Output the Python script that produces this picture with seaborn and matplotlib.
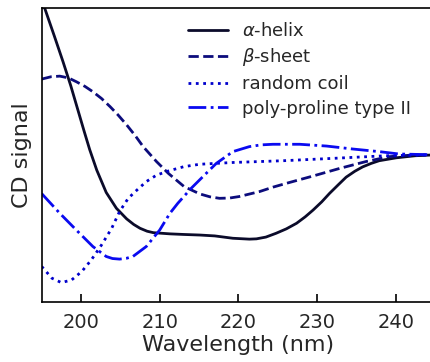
import numpy as np
import pandas as pd
import matplotlib
matplotlib.use("Agg")
import matplotlib.pyplot as plt
import seaborn as sns

# Data (arbitrary CD units, zero = common end level)
wl_helix = [195.0, 195.4, 196.6, 197.7, 198.7, 199.5, 200.4, 201.1, 202.0, 203.2, 204.5,
            205.8, 206.7, 207.5, 208.4, 209.2, 211.3, 213.0, 215.1, 217.0, 219.3, 221.4,
            222.3, 223.5, 224.8, 226.1, 227.4, 228.5, 229.5, 230.6, 231.6, 232.7, 233.7,
            234.8, 235.8, 236.9, 237.9, 240.1, 242.5, 245.0]
cd_helix = [5.28, 4.98, 4.05, 3.18, 2.35, 1.62, 0.80, 0.18, -0.52, -1.28, -1.82,
            -2.18, -2.37, -2.50, -2.60, -2.65, -2.69, -2.71, -2.73, -2.76, -2.84, -2.87,
            -2.86, -2.80, -2.67, -2.52, -2.33, -2.11, -1.88, -1.60, -1.31, -1.02, -0.76,
            -0.56, -0.41, -0.29, -0.20, -0.10, -0.03, 0.0]

wl_sheet = [195.0, 196.2, 197.3, 198.4, 199.4, 200.5, 201.5, 202.6, 203.7, 204.7, 205.8,
            206.9, 207.9, 209.6, 211.1, 213.1, 215.1, 216.4, 217.6, 218.9, 220.1, 222.7,
            224.4, 226.1, 229.5, 232.9, 236.2, 239.2, 242.0, 245.0]
cd_sheet = [2.58, 2.66, 2.68, 2.62, 2.49, 2.33, 2.15, 1.92, 1.64, 1.36, 1.02,
            0.65, 0.28, -0.23, -0.63, -1.08, -1.33, -1.43, -1.48, -1.47, -1.42, -1.25,
            -1.10, -0.97, -0.72, -0.46, -0.23, -0.06, -0.01, 0.0]

wl_coil = [195.0, 196.3, 197.5, 198.8, 200.1, 201.3, 202.6, 203.9, 204.9, 206.0, 207.1,
           208.3, 209.6, 211.1, 213.1, 215.1, 219.3, 225.7, 232.0, 238.8, 245.0]
cd_coil = [-3.80, -4.20, -4.35, -4.26, -3.97, -3.58, -3.07, -2.50, -1.93, -1.48, -1.20,
           -0.91, -0.69, -0.55, -0.40, -0.32, -0.26, -0.20, -0.12, -0.03, 0.0]

wl_ppii = [195.0, 197.3, 199.4, 201.5, 203.2, 204.0, 204.9, 205.8, 206.6, 208.3, 210.0,
           211.3, 212.3, 214.0, 215.5, 217.2, 219.3, 221.4, 222.9, 224.4, 227.8, 231.2,
           234.5, 237.9, 240.4, 245.0]
cd_ppii = [-1.32, -1.99, -2.56, -3.12, -3.46, -3.53, -3.55, -3.52, -3.46, -3.12, -2.56,
           -1.99, -1.65, -1.14, -0.74, -0.29, 0.11, 0.28, 0.34, 0.36, 0.36, 0.30,
           0.20, 0.11, 0.03, 0.0]

labels = [r"$\alpha$-helix", r"$\beta$-sheet", "random coil", "poly-proline type II"]
colors = ["#0b0b2a", "#0c0c7c", "#0000cc", "#0a0af0"]
styles = ["-", "--", ":", "-."]
xticks = [200, 210, 220, 230, 240]

sns.set_style("ticks")
plt.rcParams["font.family"] = ["DejaVu Sans"]

fig = plt.figure(figsize=(4.31, 3.62), dpi=100)
W, H = 431.0, 362.0
left, right, top, bottom = 41.7, 435.0, 8.0, 301.7
ax = fig.add_axes([left / W, 1 - bottom / H, (right - left) / W, (bottom - top) / H])

series = [(wl_helix, cd_helix), (wl_sheet, cd_sheet), (wl_coil, cd_coil), (wl_ppii, cd_ppii)]
for (x, y), lab, c, ls in zip(series, labels, colors, styles):
    df = pd.DataFrame({"wl": x, "cd": y})
    sns.lineplot(data=df, x="wl", y="cd", ax=ax, color=c, linestyle=ls, linewidth=2.0,
                 label=lab, sort=True)

ax.set_xlim(195, 245)
ax.set_ylim(-5.0, 5.0)
ax.set_xticks(xticks)
ax.set_yticks([])
ax.tick_params(axis="x", bottom=True, top=False, direction="in", length=5.5, width=1.2,
               color="black", labelsize=14, pad=8)
ax.tick_params(axis="y", left=False, right=False)
for s in ax.spines.values():
    s.set_visible(True)
    s.set_linewidth(1.2)
    s.set_color("black")
ax.set_xlabel("Wavelength (nm)", fontsize=16, labelpad=2)
ax.set_ylabel("CD signal", fontsize=16, labelpad=7)

leg = ax.legend(loc="upper left", bbox_to_anchor=(188 / W, 1 - 22 / H),
                bbox_transform=fig.transFigure, frameon=False, fontsize=13,
                handlelength=2.2, handletextpad=0.8, labelspacing=0.36,
                borderpad=0, borderaxespad=0)

fig.savefig("out.png", dpi=100)
